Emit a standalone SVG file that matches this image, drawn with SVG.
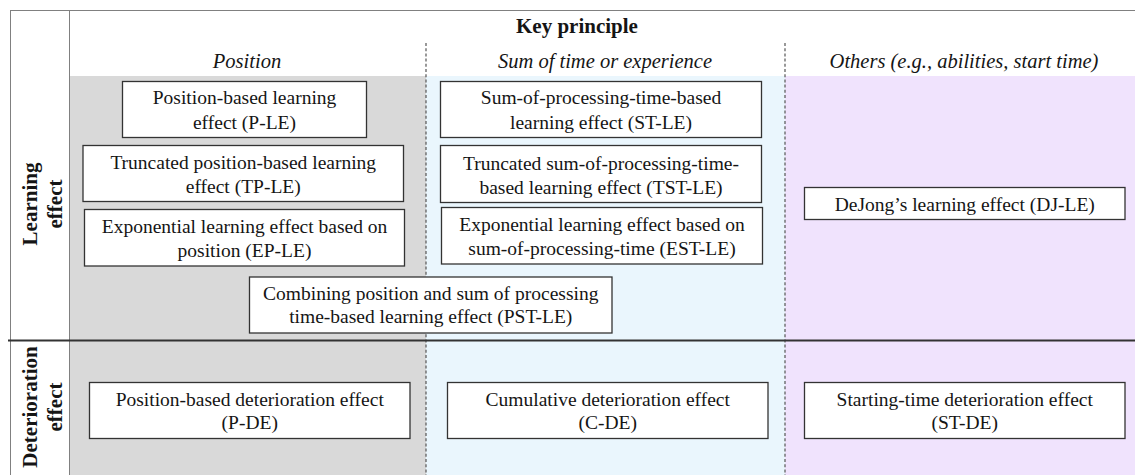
<svg xmlns="http://www.w3.org/2000/svg" width="1135" height="475" viewBox="0 0 1135 475">
<style>
  text { font-family: "Liberation Serif", "Times New Roman", serif; fill: #151515; }
  .hdr { font-size: 21px; font-weight: bold; text-anchor: middle; }
  .col { font-size: 20.5px; font-style: italic; text-anchor: middle; }
  .row { font-size: 21px; font-weight: bold; text-anchor: middle; }
  .box rect { fill: #ffffff; stroke: #333333; stroke-width: 1.3; }
  .box text { font-size: 19.5px; text-anchor: middle; }
  .thin { stroke: #808080; stroke-width: 1; fill: none; }
  .dash { stroke: #555555; stroke-width: 1.2; stroke-dasharray: 3 2.2; fill: none; }
  .sep { stroke: #333333; stroke-width: 2; fill: none; }
</style>
<rect x="0" y="0" width="1135" height="475" fill="#ffffff"/>
<g id="backgrounds">
  <rect x="69.5" y="76" width="356.5" height="399" fill="#d9d9d9"/>
  <rect x="426" y="76" width="359" height="399" fill="#eaf6fd"/>
  <rect x="785" y="76" width="350" height="399" fill="#f0e3fd"/>
</g>
<g id="grid">
  <line class="thin" x1="10" y1="10.5" x2="1135" y2="10.5"/>
  <line class="thin" x1="10.5" y1="10" x2="10.5" y2="475"/>
  <line class="thin" x1="69.5" y1="10" x2="69.5" y2="475"/>
  <line class="dash" x1="426" y1="43" x2="426" y2="475"/>
  <line class="dash" x1="785" y1="43" x2="785" y2="475"/>
  <line class="sep" x1="8" y1="340.5" x2="1135" y2="340.5"/>
</g>
<g id="headers">
  <text class="hdr" x="577" y="33">Key principle</text>
  <text class="col" x="247" y="67.5">Position</text>
  <text class="col" x="605" y="67.5">Sum of time or experience</text>
  <text class="col" x="964" y="67.5">Others (e.g., abilities, start time)</text>
</g>
<g id="row-learning" transform="translate(0,204) rotate(-90)">
  <text class="row" x="0" y="37">Learning</text>
  <text class="row" x="0" y="62">effect</text>
</g>
<g id="row-deterioration" transform="translate(0,407) rotate(-90)">
  <text class="row" x="0" y="37">Deterioration</text>
  <text class="row" x="0" y="62">effect</text>
</g>
<g id="node-P-LE" class="box">
  <rect x="122.5" y="81.5" width="244" height="56"/>
  <text x="244.5" y="104">Position-based learning</text>
  <text x="244.5" y="128.5">effect (P-LE)</text>
</g>
<g id="node-TP-LE" class="box">
  <rect x="83" y="145.5" width="320.5" height="56"/>
  <text x="243.25" y="169">Truncated position-based learning</text>
  <text x="243.25" y="192.5">effect (TP-LE)</text>
</g>
<g id="node-EP-LE" class="box">
  <rect x="84.5" y="209.5" width="320" height="56.5"/>
  <text x="244.5" y="233">Exponential learning effect based on</text>
  <text x="244.5" y="256.5">position (EP-LE)</text>
</g>
<g id="node-PST-LE" class="box">
  <rect x="249.5" y="277" width="362.5" height="56"/>
  <text x="430.75" y="299.5">Combining position and sum of processing</text>
  <text x="430.75" y="323">time-based learning effect (PST-LE)</text>
</g>
<g id="node-ST-LE" class="box">
  <rect x="440.5" y="81.5" width="321" height="56"/>
  <text x="601" y="104">Sum-of-processing-time-based</text>
  <text x="601" y="128.5">learning effect (ST-LE)</text>
</g>
<g id="node-TST-LE" class="box">
  <rect x="440.5" y="145.5" width="321" height="57"/>
  <text x="601" y="170">Truncated sum-of-processing-time-</text>
  <text x="601" y="193.5">based learning effect (TST-LE)</text>
</g>
<g id="node-EST-LE" class="box">
  <rect x="441.5" y="207.5" width="321" height="56.5"/>
  <text x="602" y="231">Exponential learning effect based on</text>
  <text x="602" y="254.5">sum-of-processing-time (EST-LE)</text>
</g>
<g id="node-DJ-LE" class="box">
  <rect x="804.5" y="187.5" width="320.5" height="32"/>
  <text x="964.75" y="211">DeJong’s learning effect (DJ-LE)</text>
</g>
<g id="node-P-DE" class="box">
  <rect x="89.5" y="382.5" width="320.5" height="56"/>
  <text x="249.75" y="406">Position-based deterioration effect</text>
  <text x="249.75" y="429">(P-DE)</text>
</g>
<g id="node-C-DE" class="box">
  <rect x="447.5" y="382.5" width="320.5" height="56"/>
  <text x="607.75" y="406">Cumulative deterioration effect</text>
  <text x="607.75" y="429">(C-DE)</text>
</g>
<g id="node-ST-DE" class="box">
  <rect x="804.5" y="382.5" width="320.5" height="56"/>
  <text x="964.75" y="406">Starting-time deterioration effect</text>
  <text x="964.75" y="429">(ST-DE)</text>
</g>
<g id="connectors"/>
</svg>
